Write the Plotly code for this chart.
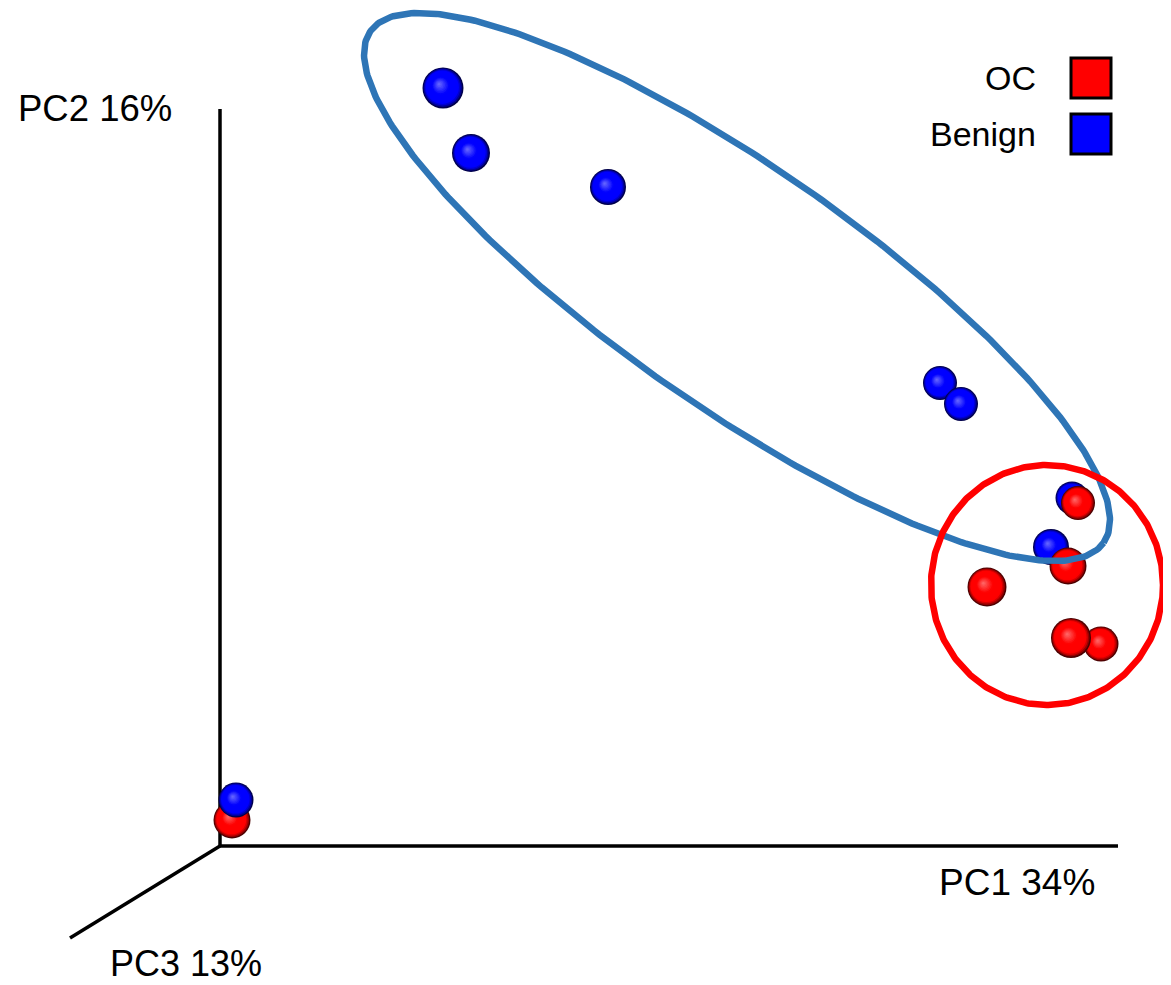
import numpy as np
import plotly.graph_objects as go

# ---- data: PCA scores projected onto the drawing plane (origin = axes corner) ----
benign_pc1 = [223, 251, 388, 720, 741, 852, 831, 16]
benign_pc2 = [758, 693, 659, 463, 442, 348, 299, 46]
oc_pc1 = [858, 848, 767, 851, 881, 12]
oc_pc2 = [343, 280, 259, 208, 202, 26]

axis_labels = ["PC1 34%", "PC2 16%", "PC3 13%"]
group_names = ["OC", "Benign"]

# ---- styling ----
benign_diam = [41, 38, 36, 34, 34, 33, 36, 35]
oc_diam = [34, 37, 39, 40, 35, 37]
draw_seq = [("B", 0), ("B", 1), ("B", 2), ("B", 3), ("B", 4), ("B", 5), ("B", 6),
            ("O", 0), ("O", 1), ("O", 2), ("O", 4), ("O", 3), ("O", 5), ("B", 7)]

# page body has an 8px margin: figure sized to fit the window without scrollbars
W, H = 1163, 977
X0, Y0 = -212, -139
FONT = "Liberation Sans, Arial, sans-serif"
BLUE_LINE = "#2E75B6"

fig = go.Figure()

# axes of the 3D frame
len_pc1, len_pc2 = 898, 737
pc3_end = (-150, -92)
for xs, ys in [([0, len_pc1], [0, 0]), ([0, 0], [0, len_pc2]), ([0, pc3_end[0]], [0, pc3_end[1]])]:
    fig.add_trace(go.Scatter(x=xs, y=ys, mode="lines", line=dict(color="black", width=3.5),
                             hoverinfo="skip", showlegend=False))


def shade(r, channel):
    body = min(1.0, 1.7 * np.sqrt(max(0.0, 1 - r * r)))
    hl = 0.45 * max(0.0, 1 - r / 0.45)
    main = int(round(255 * body))
    other = int(round(255 * hl * body))
    if channel == "b":
        return f"rgb({other},{other},{main})"
    return f"rgb({main},{other},{other})"


K = 16
for grp, i in draw_seq:
    if grp == "B":
        cx, cy, d, ch = benign_pc1[i], benign_pc2[i], benign_diam[i], "b"
    else:
        cx, cy, d, ch = oc_pc1[i], oc_pc2[i], oc_diam[i], "r"
    rs = [1 - k / K for k in range(K)]
    xs = [cx - 0.1 * d * (1 - r) for r in rs]
    ys = [cy + 0.1 * d * (1 - r) for r in rs]
    sizes = [d * r for r in rs]
    cols = [shade(min(r, 0.985), ch) for r in rs]
    fig.add_trace(go.Scatter(x=xs, y=ys, mode="markers",
                             marker=dict(size=sizes, color=cols, line=dict(width=0), opacity=1),
                             hoverinfo="skip", showlegend=False))

# group ellipses
t = np.linspace(0, 2 * np.pi, 400)
ang = np.deg2rad(-34.9)
a, b = 447, 120
bcx, bcy = 517, 559
ex = bcx + a * np.cos(t) * np.cos(ang) - b * np.sin(t) * np.sin(ang)
ey = bcy + a * np.cos(t) * np.sin(ang) + b * np.sin(t) * np.cos(ang)
fig.add_trace(go.Scatter(x=ex, y=ey, mode="lines", line=dict(color=BLUE_LINE, width=6.5),
                         hoverinfo="skip", showlegend=False))

rcx, rcy, rrx, rry = 827, 261, 116, 120
fig.add_trace(go.Scatter(x=rcx + rrx * np.cos(t), y=rcy + rry * np.sin(t), mode="lines",
                         line=dict(color="#FF0000", width=6.5), hoverinfo="skip", showlegend=False))

# custom legend
legend_cols = ["#FF0000", "#0000FF"]
leg_y = [768, 712]
for name, col, yy in zip(group_names, legend_cols, leg_y):
    fig.add_shape(type="rect", x0=851, x1=891, y0=yy - 20, y1=yy + 20, xref="x", yref="y",
                  line=dict(color="black", width=3), fillcolor=col)
    fig.add_annotation(x=818, y=yy, text=name, showarrow=False, xanchor="right", yanchor="middle",
                       font=dict(family=FONT, size=34, color="black"))

# axis labels
fig.add_annotation(x=717, y=-36, text=axis_labels[0], showarrow=False, xanchor="left", yanchor="middle",
                   font=dict(family=FONT, size=37, color="black"))
fig.add_annotation(x=-204, y=738, text=axis_labels[1], showarrow=False, xanchor="left", yanchor="middle",
                   font=dict(family=FONT, size=36.5, color="black"))
fig.add_annotation(x=-112, y=-117, text=axis_labels[2], showarrow=False, xanchor="left", yanchor="middle",
                   font=dict(family=FONT, size=36, color="black"))

fig.update_layout(
    width=W, height=H, margin=dict(l=0, r=0, t=0, b=0),
    paper_bgcolor="white", plot_bgcolor="white",
    xaxis=dict(range=[X0, X0 + W], visible=False, fixedrange=True),
    yaxis=dict(range=[Y0, Y0 + H], visible=False, fixedrange=True),
    showlegend=False,
)
fig.write_html("out.html", config={"displayModeBar": False})
